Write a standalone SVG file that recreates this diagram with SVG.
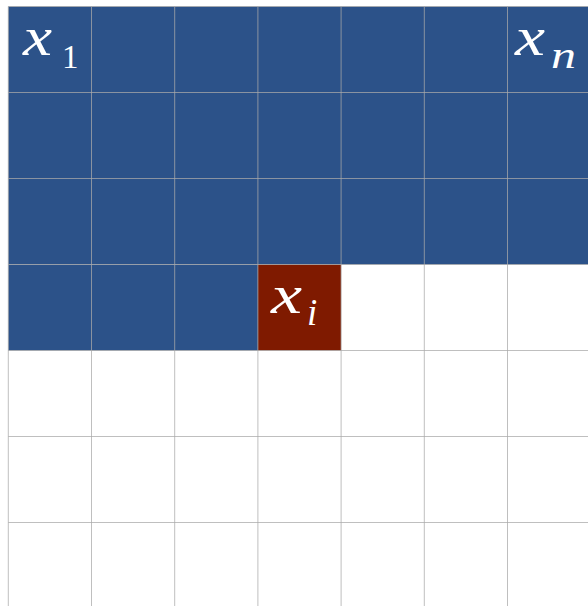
<svg xmlns="http://www.w3.org/2000/svg" width="588" height="606" viewBox="0 0 588 606">
<style>
.b{fill:#2c5289}
.r{fill:#7f1a00}
.g{stroke:#aaaaaa;stroke-opacity:0.75;stroke-width:1;fill:none}
.v{font-family:"Liberation Serif","Times New Roman",serif;fill:#ffffff}
.x{font-style:italic;font-size:55px}
.s{font-size:33px}
.si{font-style:italic;font-size:37px}
</style>
<rect width="588" height="606" fill="#ffffff"/>
<g id="filled">
<rect class="b" x="8.3" y="6.5" width="582" height="258"/>
<rect class="b" x="8.3" y="264.5" width="249.6" height="86"/>
</g>
<g id="current">
<rect class="r" x="257.9" y="264.5" width="83.2" height="86"/>
</g>
<g id="grid" class="g">
<path d="M8.3 6.5V606M91.5 6.5V606M174.7 6.5V606M257.9 6.5V606M341.1 6.5V606M424.3 6.5V606M507.5 6.5V606"/>
<path d="M8.3 6.5H588M8.3 92.5H588M8.3 178.5H588M8.3 264.5H588M8.3 350.5H588M8.3 436.5H588M8.3 522.5H588"/>
</g>
<g id="x1" class="v"><text class="x" x="23" y="55" textLength="29" lengthAdjust="spacingAndGlyphs">x</text><text class="s" x="62" y="68">1</text></g>
<g id="xn" class="v"><text class="x" x="515" y="55" textLength="30" lengthAdjust="spacingAndGlyphs">x</text><text class="si" x="551" y="68" textLength="25" lengthAdjust="spacingAndGlyphs">n</text></g>
<g id="xi" class="v"><text class="x" x="271" y="313" textLength="31" lengthAdjust="spacingAndGlyphs">x</text><text class="si" x="307" y="325">i</text></g>
</svg>
